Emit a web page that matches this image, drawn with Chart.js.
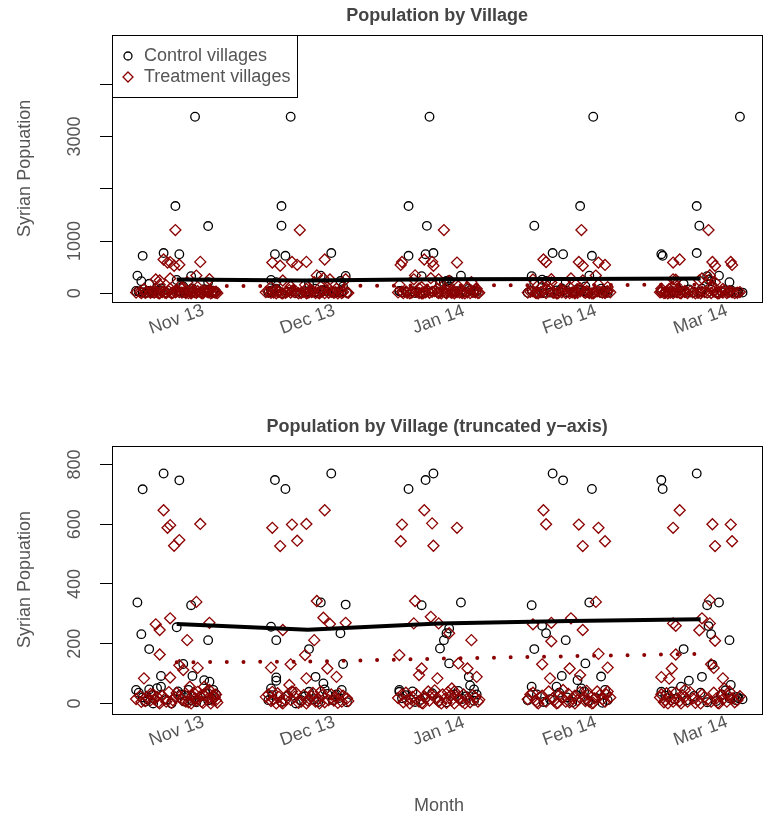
<!DOCTYPE html>
<html>
<head>
<meta charset="utf-8">
<script src="https://cdn.jsdelivr.net/npm/chart.js@4.4.1/dist/chart.umd.min.js"></script>
<style>
  html, body { margin: 0; padding: 0; background: #fff; }
  #wrap { position: relative; width: 769px; height: 818px; }
  canvas { position: absolute; left: 0; }
  #top { top: 0; }
  #bottom { top: 409px; }
</style>
</head>
<body>
<div id="wrap">
  <canvas id="top" width="769" height="409"></canvas>
  <canvas id="bottom" width="769" height="409"></canvas>
</div>
<script>
const MONTHS = ['Nov 13', 'Dec 13', 'Jan 14', 'Feb 14', 'Mar 14'];
const CONTROL_MEAN = [266, 247, 268, 276, 282];
const TREAT_MEAN   = [138, 140, 150, 158, 166];

const TOP_TICKS = [0, 1000, 2000, 3000, 4000];
const TOP_TICK_LABELS = ['0', '1000', '', '3000', ''];
const BOTTOM_TICKS = [0, 200, 400, 600, 800];
const BOTTOM_TICK_LABELS = ['0', '200', '400', '600', '800'];

// [jitter around month, Syrian population]
const CTRL_NOV = [[0.14,3377],[-0.01,1669],[0.24,1287],[-0.26,717],[-0.10,770],[0.02,747],
  [-0.30,338],[0.11,329],[-0.27,232],[0.00,255],[0.24,212],[-0.21,182],[0.05,132],[-0.12,92],[0.12,92],
  [-0.31,45],[-0.29,36],[-0.21,47],[-0.15,51],[-0.12,56],[0.09,45],[0.21,78],[0.25,73],[-0.24,6],
  [-0.04,0],[0.06,6],[0.11,11],[0.22,34],[0.28,45],[-0.22,13],[0.18,22],[-0.18,0],[0.27,15],[0.03,30],
  [-0.26,20],[-0.19,28],[-0.08,12],[0.01,40],[0.08,25],[0.15,4],[0.24,10],[0.30,30]];
const TRT_NOV = [[-0.01,1210],[-0.10,647],[-0.05,597],[-0.07,588],[0.18,601],[0.02,547],[-0.02,528],
  [0.15,340],[-0.16,265],[-0.13,246],[-0.05,285],[0.25,270],[0.08,212],[-0.13,164],[0.02,128],[0.16,119],
  [-0.25,84],[-0.05,87],[0.05,112],[0.10,56],[0.21,56],[0.25,45],[0.30,11],[-0.20,11],[-0.13,0],[-0.03,11],
  [0.02,22],[0.07,6],[0.14,17],[0.19,6],[0.24,17],[0.28,28],[0.31,3],[-0.15,22],[-0.08,6],[0.16,39],
  [0.26,0],[0.11,0],[-0.23,22],[0.21,28],[-0.27,5],[-0.18,30],[0.00,35],[0.12,25],[0.29,20],
  [-0.31,15],[-0.28,25],[-0.24,8],[-0.20,32],[-0.17,14],[-0.14,4],[-0.11,26],[-0.09,16],[-0.06,38],
  [-0.04,2],[-0.01,20],[0.04,12],[0.06,28],[0.09,4],[0.13,36],[0.15,10],[0.18,24],[0.20,2],[0.23,40],
  [0.27,12],[0.30,30]];

const CTRL_DEC = [[-0.13,3377],[-0.20,1669],[-0.20,1292],[-0.25,748],[-0.17,718],[0.18,770],
  [0.10,338],[0.29,331],[-0.28,257],[-0.24,212],[0.25,235],[0.01,182],[0.27,132],[-0.24,87],[0.06,89],
  [0.12,67],[0.13,47],[-0.24,76],[-0.28,50],[-0.30,11],[0.01,39],[-0.05,11],[0.26,45],[-0.09,0],
  [0.19,11],[0.22,30],[-0.15,25],[0.08,5],[-0.27,28],[-0.20,6],[-0.12,40],[-0.02,24],[0.05,14],
  [0.15,32],[0.24,18],[0.30,4]];
const TRT_DEC = [[-0.06,1210],[0.13,647],[-0.27,588],[-0.12,599],[-0.01,601],[-0.21,527],[-0.08,545],
  [0.07,343],[-0.19,246],[0.12,287],[0.17,266],[0.29,270],[0.05,212],[-0.02,162],[-0.13,131],[-0.28,120],
  [0.15,117],[0.22,89],[-0.01,84],[-0.14,62],[-0.27,39],[-0.22,22],[-0.17,11],[-0.10,22],[-0.05,6],
  [0.01,17],[0.06,6],[0.11,28],[0.16,11],[0.21,22],[0.26,6],[0.30,17],[-0.24,0],[-0.32,22],[-0.19,0],
  [0.09,0],[-0.01,0],[0.04,35],[-0.12,40],[0.24,33],[-0.28,8],
  [-0.30,30],[-0.26,14],[-0.23,34],[-0.20,4],[-0.16,26],[-0.13,12],[-0.09,36],[-0.07,2],[-0.03,28],
  [0.00,10],[0.03,24],[0.08,16],[0.10,40],[0.13,4],[0.18,30],[0.20,10],[0.23,2],[0.27,26],[0.31,8]];

const CTRL_JAN = [[-0.07,3377],[-0.23,1669],[-0.09,1290],[-0.23,718],[-0.10,748],[-0.04,770],
  [0.17,338],[-0.13,329],[0.06,235],[0.04,212],[0.01,184],[0.08,251],[0.08,134],[0.23,89],[0.27,47],
  [0.27,9],[-0.30,39],[-0.28,17],[-0.30,45],[-0.10,20],[0.00,8],[0.12,30],[0.18,15],[-0.18,5],[0.24,60],
  [-0.25,28],[-0.20,40],[-0.14,12],[-0.05,34],[0.06,4],[0.15,42],[0.21,24],[0.29,30]];
const TRT_JAN = [[0.04,1210],[-0.11,647],[-0.28,599],[-0.05,603],[-0.29,543],[-0.04,528],[0.14,588],
  [-0.18,343],[-0.19,268],[-0.06,290],[0.00,268],[0.08,235],[0.25,212],[-0.30,162],[0.15,134],[0.22,117],
  [0.29,89],[-0.01,84],[-0.13,117],[-0.15,95],[0.10,50],[-0.28,30],[-0.24,11],[-0.20,22],[-0.15,6],
  [-0.10,17],[-0.05,28],[0.00,6],[0.05,17],[0.10,11],[0.14,22],[0.18,6],[0.22,17],[0.26,28],[0.30,6],
  [-0.22,0],[-0.12,0],[0.02,0],[0.12,0],[0.20,0],[-0.08,40],[0.07,38],
  [-0.31,18],[-0.27,4],[-0.25,36],[-0.21,14],[-0.17,30],[-0.13,2],[-0.11,24],[-0.07,10],[-0.03,44],
  [-0.01,18],[0.03,30],[0.06,2],[0.09,26],[0.12,40],[0.16,14],[0.19,30],[0.24,4],[0.28,20],[0.31,12]];

const CTRL_FEB = [[0.18,3377],[0.08,1669],[-0.27,1292],[-0.13,770],[-0.05,747],[0.17,718],
  [-0.29,329],[0.15,338],[-0.21,260],[-0.18,235],[-0.03,212],[-0.27,182],[0.12,134],[0.24,90],[-0.06,92],
  [0.06,78],[-0.29,56],[-0.32,11],[0.09,50],[0.27,45],[0.29,11],[-0.10,56],[-0.02,20],[0.14,8],[-0.20,5],
  [-0.25,30],[-0.15,14],[-0.08,36],[0.02,4],[0.05,28],[0.11,40],[0.20,18],[0.25,2]];
const TRT_FEB = [[0.09,1210],[-0.20,647],[-0.18,600],[0.07,599],[0.22,588],[0.10,527],[0.27,543],
  [0.20,340],[-0.28,265],[-0.14,270],[0.01,285],[0.10,246],[-0.14,208],[-0.21,131],[0.00,117],[0.29,120],
  [0.22,166],[-0.15,84],[0.08,95],[-0.30,30],[-0.26,11],[-0.22,22],[-0.18,6],[-0.13,17],[-0.08,28],
  [-0.03,6],[0.02,17],[0.06,11],[0.11,22],[0.15,6],[0.19,17],[0.23,28],[0.27,6],[-0.24,0],[-0.10,0],
  [0.04,0],[0.17,0],[0.29,40],[-0.05,45],[0.13,42],
  [-0.32,14],[-0.28,36],[-0.25,4],[-0.21,26],[-0.16,40],[-0.12,10],[-0.09,2],[-0.06,20],[-0.01,32],
  [0.00,4],[0.04,26],[0.08,38],[0.12,8],[0.14,30],[0.18,2],[0.21,40],[0.25,14],[0.28,30],[0.31,20]];

const CTRL_MAR = [[0.30,3377],[-0.03,1669],[-0.01,1292],[-0.30,748],[-0.29,718],[-0.03,770],
  [0.05,329],[0.14,338],[0.06,259],[0.08,232],[0.22,212],[-0.13,182],[0.09,130],[0.01,89],[0.23,62],
  [0.28,22],[0.29,17],[-0.09,76],[-0.15,56],[-0.30,39],[0.22,17],[0.27,11],[-0.20,15],[-0.05,25],[0.12,8],
  [-0.27,26],[-0.22,40],[-0.11,10],[0.00,36],[0.05,4],[0.16,30],[0.19,44],[0.32,14]];
const TRT_MAR = [[0.06,1210],[-0.16,647],[-0.21,588],[0.09,600],[0.23,599],[0.11,527],[0.24,543],
  [0.07,346],[-0.21,268],[-0.19,260],[0.01,285],[0.07,268],[-0.01,245],[0.11,210],[-0.19,164],[-0.30,88],
  [0.08,131],[0.10,119],[0.17,84],[-0.24,83],[-0.22,117],[-0.30,30],[-0.27,11],[-0.24,22],[-0.21,6],
  [-0.18,17],[-0.14,28],[-0.10,6],[-0.06,17],[-0.02,11],[0.03,22],[0.08,6],[0.12,17],[0.16,28],[0.20,6],
  [0.24,17],[0.28,11],[-0.25,0],[-0.15,0],[0.00,0],[0.14,0],[0.22,40],[-0.12,45],[0.18,50],
  [-0.31,20],[-0.28,4],[-0.26,34],[-0.23,12],[-0.19,36],[-0.16,8],[-0.12,22],[-0.08,38],[-0.04,2],
  [0.01,30],[0.05,12],[0.10,36],[0.13,2],[0.17,14],[0.21,26],[0.26,4],[0.30,24]];

const CONTROL = [CTRL_NOV, CTRL_DEC, CTRL_JAN, CTRL_FEB, CTRL_MAR];
const TREAT   = [TRT_NOV, TRT_DEC, TRT_JAN, TRT_FEB, TRT_MAR];

const RED  = '#8b0000';
const FONT = '18px "Liberation Sans", Arial, sans-serif';
const TEXT = '#555';

const jittered = months => months.flatMap((arr, i) => arr.map(([dx, v]) => ({ x: i + dx, y: v })));
const meanLine = vals => vals.map((v, i) => ({ x: i, y: v }));

// draws the R-style box, titles, tick labels and legend
const frame = {
  id: 'frame',
  afterDraw(chart, args, o) {
    const { ctx, chartArea: a, scales: { x, y } } = chart;
    ctx.save();
    ctx.strokeStyle = '#000';
    ctx.lineWidth = 1;
    ctx.strokeRect(Math.round(a.left) + 0.5, Math.round(a.top) + 0.5,
      Math.round(a.right - a.left), Math.round(a.bottom - a.top));

    ctx.textAlign = 'center';
    ctx.textBaseline = 'middle';
    ctx.font = 'bold ' + FONT;
    ctx.fillStyle = '#444';
    ctx.fillText(o.title, (a.left + a.right) / 2, a.top - 19);

    ctx.font = FONT;
    ctx.fillStyle = TEXT;
    o.ticks.forEach((v, i) => {
      if (!o.tickLabels[i]) return;
      ctx.save();
      ctx.translate(a.left - 37, y.getPixelForValue(v));
      ctx.rotate(-Math.PI / 2);
      ctx.fillText(o.tickLabels[i], 0, 0);
      ctx.restore();
    });

    ctx.save();
    ctx.translate(25, (a.top + a.bottom) / 2);
    ctx.rotate(-Math.PI / 2);
    ctx.fillText('Syrian Popuation', 0, 0);
    ctx.restore();

    MONTHS.forEach((m, i) => {
      ctx.save();
      ctx.translate(x.getPixelForValue(i), a.bottom + 18);
      ctx.rotate(-20 * Math.PI / 180);
      ctx.fillText(m, 0, 0);
      ctx.restore();
    });

    if (o.xTitle) ctx.fillText('Month', 439, a.bottom + 93);

    if (o.legend) {
      const lx = Math.round(a.left) + 0.5, ly = Math.round(a.top) + 0.5;
      ctx.strokeStyle = '#000';
      ctx.strokeRect(lx, ly, 185, 62);
      ctx.lineWidth = 1.3;
      ctx.beginPath();
      ctx.arc(a.left + 16, a.top + 21, 4, 0, Math.PI * 2);
      ctx.stroke();
      ctx.strokeStyle = RED;
      const dx = a.left + 16, dy = a.top + 42;
      ctx.beginPath();
      ctx.moveTo(dx, dy - 5); ctx.lineTo(dx + 5, dy); ctx.lineTo(dx, dy + 5); ctx.lineTo(dx - 5, dy);
      ctx.closePath();
      ctx.stroke();
      ctx.textAlign = 'left';
      ctx.fillStyle = TEXT;
      ctx.fillText('Control villages', a.left + 32, a.top + 21);
      ctx.fillText('Treatment villages', a.left + 32, a.top + 42);
    }
    ctx.restore();
  }
};

function panel(id, cfg) {
  new Chart(document.getElementById(id), {
    type: 'scatter',
    data: {
      datasets: [
        { data: meanLine(CONTROL_MEAN), showLine: true, borderColor: '#000', borderWidth: 4,
          pointRadius: 0, tension: 0, clip: 0 },
        { data: meanLine(TREAT_MEAN), showLine: true, borderColor: RED, borderWidth: 4,
          borderDash: [0, 16.7], borderCapStyle: 'round', pointRadius: 0, tension: 0, clip: 0 },
        { data: jittered(TREAT), pointStyle: 'rectRot', radius: 5.5, borderColor: RED,
          backgroundColor: 'rgba(0,0,0,0)', borderWidth: 1.3, clip: 0 },
        { data: jittered(CONTROL), pointStyle: 'circle', radius: 4.3, borderColor: '#000',
          backgroundColor: 'rgba(0,0,0,0)', borderWidth: 1.3, clip: 0 },
      ],
    },
    options: {
      responsive: false, animation: false, events: [],
      layout: { padding: cfg.padding },
      plugins: { legend: { display: false }, tooltip: { enabled: false }, frame: cfg.frame },
      scales: {
        x: { type: 'linear', display: false, min: -0.494, max: 4.47 },
        y: {
          type: 'linear', min: cfg.min, max: cfg.max,
          afterBuildTicks: s => { s.ticks = cfg.frame.ticks.map(v => ({ value: v })); },
          afterFit: s => { s.width = 12; },
          ticks: { display: false },
          border: { display: false },
          grid: { drawOnChartArea: false, drawTicks: true, tickLength: 12, color: '#000', lineWidth: 1 },
        },
      },
    },
    plugins: [frame],
  });
}

panel('top', {
  min: -160, max: 4940,
  padding: { top: 35, right: 4, bottom: 107.3, left: 100 },
  frame: { title: 'Population by Village', ticks: TOP_TICKS, tickLabels: TOP_TICK_LABELS, legend: true },
});

panel('bottom', {
  min: -33, max: 863,
  padding: { top: 36.7, right: 4, bottom: 104.7, left: 100 },
  frame: { title: 'Population by Village (truncated y\u2212axis)', ticks: BOTTOM_TICKS,
    tickLabels: BOTTOM_TICK_LABELS, xTitle: true },
});
</script>
</body>
</html>
